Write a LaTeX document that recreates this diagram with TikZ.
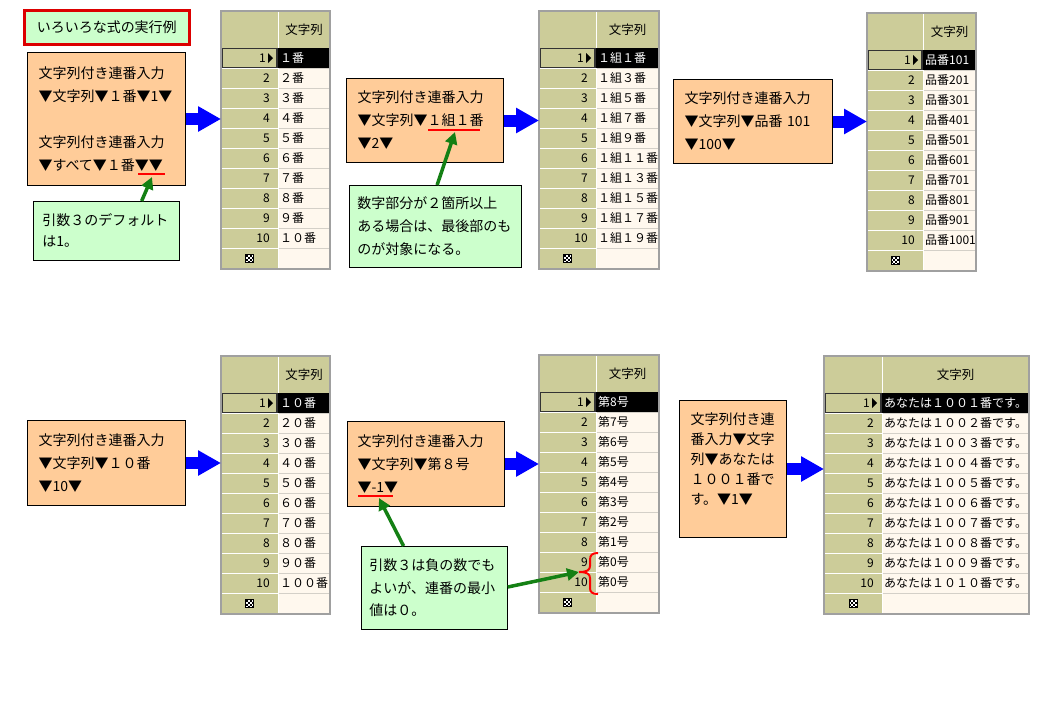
\documentclass[tikz,border=0pt]{standalone}
\usepackage{fontspec}
\setmainfont{Noto Sans CJK JP}
\usetikzlibrary{arrows.meta,calc}
\definecolor{olivec}{RGB}{204,204,153}
\definecolor{creamc}{RGB}{255,248,238}
\definecolor{orangec}{RGB}{255,204,153}
\definecolor{greenbg}{RGB}{204,255,204}
\definecolor{arrowgreen}{RGB}{20,128,20}
\definecolor{tabborder}{RGB}{160,160,160}
\definecolor{cellline}{RGB}{212,208,200}
\definecolor{titlered}{RGB}{220,0,0}
\tikzset{
  obox/.style={draw=black, line width=1pt, fill=orangec, align=left, inner ysep=0pt, anchor=north west,
    font=\fontsize{14}{23}\selectfont},
  gbox/.style={draw=black, line width=0.8pt, fill=greenbg, align=left, inner ysep=0pt, anchor=north west,
    font=\fontsize{14}{22}\selectfont},
  titlebox/.style={draw=titlered, line width=2.5pt, fill=greenbg, anchor=north west,
    font=\fontsize{14}{16}\selectfont},
  barrow/.style={draw=blue, line width=12pt, -{Triangle[length=23pt,width=24pt]}},
  garrow/.style={draw=arrowgreen, line width=3.5pt, -{Triangle[length=12pt,width=12pt]}},
  redline/.style={draw=red, line width=2.5pt},
  numtext/.style={font=\fontsize{12}{12}\selectfont, anchor=east, inner sep=0pt},
  celltext/.style={font=\fontsize{12}{12}\selectfont, anchor=west, inner sep=0pt},
  hdtext/.style={font=\fontsize{12.5}{12.5}\selectfont, inner sep=0pt},
}
% #1 name, #2 left x, #3 split x, #4 right x, #5 top y, #6 entries
\newcommand\gtab[6]{%
  \node[inner sep=0pt, minimum width={#4-#2}, minimum height=258, anchor=north west] (#1) at (#2,#5) {};
  \fill[olivec] (#2,#5) rectangle (#3,{#5+258});
  \fill[olivec] (#3,#5) rectangle (#4,{#5+37});
  \fill[creamc] (#3,{#5+37}) rectangle (#4,{#5+258});
  \foreach \k in {1,...,10} {
    \draw[white, line width=1pt] (#2,{#5+37+20*\k}) -- (#3,{#5+37+20*\k});
    \draw[cellline, line width=1pt] (#3,{#5+37+20*\k}) -- (#4,{#5+37+20*\k});
  }
  \draw[white, line width=1pt] (#3,#5) -- (#3,{#5+258});
  \draw[tabborder, line width=1pt] (#2,{#5+37}) -- (#4,{#5+37});
  \fill[black] (#3,{#5+37}) rectangle (#4,{#5+57});
  \draw[black!80, line width=1.2pt] ({#2+1},{#5+37.6}) rectangle ({#3-1},{#5+56.4});
  \node[hdtext] (#1h) at ({(#3+#4)/2},{#5+18.5}) {文字列};
  \foreach \t [count=\i] in {#6} {
    \ifnum\i=1
      \node[numtext] (#1r\i) at ({#3-12},{#5+47}) {1};
      \fill[black] ({#3-10},{#5+42}) -- ({#3-10},{#5+52}) -- ({#3-5},{#5+47}) -- cycle;
      \node[celltext, text=white] (#1c\i) at ({#3+2},{#5+47}) {\t};
    \else
      \node[numtext] (#1r\i) at ({#3-8},{#5+27+20*\i}) {\i};
      \node[celltext] (#1c\i) at ({#3+2},{#5+27+20*\i}) {\t};
    \fi
  }
  \begin{scope}[shift={({(#2+#3)/2-4},{#5+243.5})}]
    \fill[white] (0,0) rectangle (8,8);
    \foreach \a/\b in {0/0,4/0,2/2,6/2,0/4,4/4,2/6,6/6} {\fill[black] (\a,\b) rectangle ({\a+2},{\b+2});}
    \draw[black, line width=0.6pt] (0,0) rectangle (8,8);
  \end{scope}
  \draw[tabborder, line width=1.5pt] (#2,#5) rectangle (#4,{#5+258});
}
\begin{document}
\begin{tikzpicture}[x=1pt, y=-1pt]
\useasboundingbox (0,0) rectangle (1050,721);
\fill[white] (0,0) rectangle (1050,721);

% tables
\gtab{Ta}{221}{278}{330}{11}{１番,２番,３番,４番,５番,６番,７番,８番,９番,１０番}
\gtab{Tb}{539}{596}{659}{11}{１組１番,１組３番,１組５番,１組７番,１組９番,１組１１番,１組１３番,１組１５番,１組１７番,１組１９番}
\gtab{Tc}{867}{923}{976}{13}{品番101,品番201,品番301,品番401,品番501,品番601,品番701,品番801,品番901,品番1001}
\gtab{Td}{221}{278}{330}{356}{１０番,２０番,３０番,４０番,５０番,６０番,７０番,８０番,９０番,１００番}
\gtab{Te}{539}{596}{659}{355}{第8号,第7号,第6号,第5号,第4号,第3号,第2号,第1号,第0号,第0号}
\gtab{Tf}{824}{882}{1029}{356}{あなたは１００１番です。,あなたは１００２番です。,あなたは１００３番です。,あなたは１００４番です。,あなたは１００５番です。,あなたは１００６番です。,あなたは１００７番です。,あなたは１００８番です。,あなたは１００９番です。,あなたは１０１０番です。}

% title
\node[titlebox, minimum width=165, minimum height=34] (title) at (23,9) {いろいろな式の実行例};

% orange boxes
\node[obox, inner xsep=11pt, text width=136pt, minimum height=133] (A) at (27,52)
  {文字列付き連番入力\\▼文字列▼１番▼1▼\\[23.5pt]文字列付き連番入力\\▼すべて▼１番▼▼};
\node[obox, inner xsep=11pt, text width=135pt, minimum height=84] (B) at (346,78)
  {文字列付き連番入力\\▼文字列▼１組１番\\▼2▼};
\node[obox, inner xsep=11pt, text width=137pt, minimum height=84] (C) at (673,79)
  {文字列付き連番入力\\▼文字列▼品番 101\\▼100▼};
\node[obox, inner xsep=11pt, text width=136pt, minimum height=85] (D) at (27,420)
  {文字列付き連番入力\\▼文字列▼１０番\\▼10▼};
\node[obox, inner xsep=10pt, text width=137pt, minimum height=85] (E) at (347,421)
  {文字列付き連番入力\\▼文字列▼第８号\\▼-1▼};
\node[obox, inner xsep=11pt, text width=85pt, minimum height=137, font=\fontsize{14}{20}\selectfont] (F) at (679,400)
  {文字列付き連\\番入力▼文字\\列▼あなたは\\１００１番で\\す。▼1▼\\ \mbox{}};

% green boxes
\node[gbox, inner xsep=9pt, text width=128pt, minimum height=59, font=\fontsize{14}{21}\selectfont] (G1) at (33,201)
  {引数３のデフォルト\\は1。};
\node[gbox, inner xsep=8pt, text width=156pt, minimum height=82, font=\fontsize{14}{23}\selectfont] (G2) at (349,185)
  {数字部分が２箇所以上\\ある場合は、最後部のも\\のが対象になる。};
\node[gbox, inner xsep=8pt, text width=130pt, minimum height=83, font=\fontsize{14}{22.5}\selectfont] (G3) at (361,546)
  {引数３は負の数でも\\よいが、連番の最小\\値は０。};

% blue arrows
\draw[barrow] (A.east) -- (A.east -| Ta.west);
\draw[barrow] (B.east) -- (B.east -| Tb.west);
\draw[barrow] (C.east) -- (C.east -| Tc.west);
\draw[barrow] (D.east) -- (D.east -| Td.west);
\draw[barrow] (E.east) -- (E.east -| Te.west);
\draw[barrow] (F.east) -- (F.east -| Tf.west);

% red underlines
\coordinate (ua1) at (138,174); \coordinate (ua2) at (165,174);
\coordinate (ub1) at (428,130); \coordinate (ub2) at (480,130);
\coordinate (ue1) at (358,496); \coordinate (ue2) at (393,496);
\draw[redline] (ua1) -- (ua2);
\draw[redline] (ub1) -- (ub2);
\draw[redline] (ue1) -- (ue2);

% red brace
\coordinate (br) at (579,572);
\draw[red, line width=2pt] (598,553) .. controls (592,553) and (590,555) .. (590,560) -- (590,566)
  .. controls (590,570) and (587,572) .. (br)
  .. controls (587,572) and (590,574) .. (590,578) -- (590,588)
  .. controls (590,592) and (592,594) .. (598,594);

% green arrows
\coordinate (ta) at (152,177);
\coordinate (tb) at (455,132);
\coordinate (te) at (379,498);
\draw[garrow] ($(G1.north west)!0.74!(G1.north east)$) -- (ta);
\draw[garrow] ($(G2.north west)!0.51!(G2.north east)$) -- (tb);
\draw[garrow] ($(G3.north west)!0.29!(G3.north east)$) -- (te);
\draw[garrow] (G3.east |- 0,587) -- (br);
\end{tikzpicture}
\end{document}
